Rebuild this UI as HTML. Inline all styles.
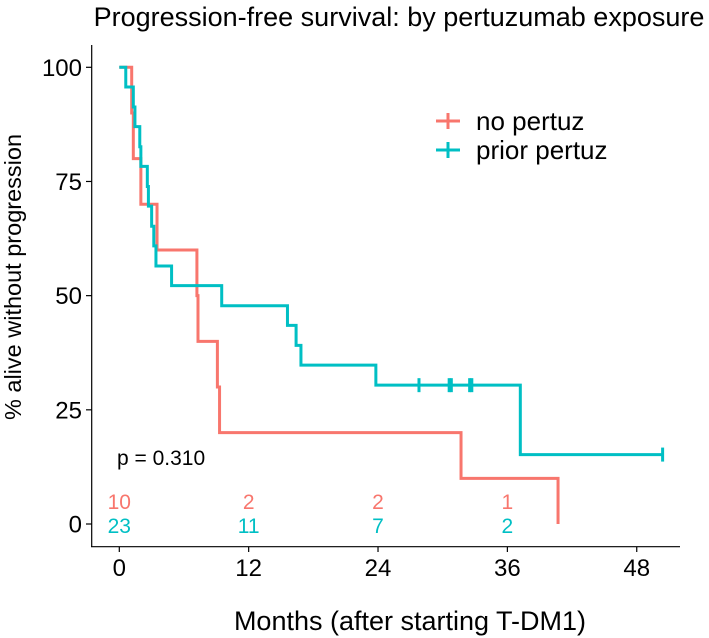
<!DOCTYPE html>
<html><head><meta charset="utf-8"><style>
body{margin:0;background:#fff}
svg{display:block;font-family:"Liberation Sans",Arial,sans-serif}
</style></head><body>
<svg id="chart" width="709" height="638" viewBox="0 0 709 638">
<text x="399" y="26" font-size="27" text-anchor="middle" fill="#000">Progression-free survival: by pertuzumab exposure</text>
<text transform="translate(21,277) rotate(-90)" font-size="23.5" text-anchor="middle" fill="#000">% alive without progression</text>
<text x="410" y="630" font-size="27" text-anchor="middle" fill="#000">Months (after starting T-DM1)</text>
<g id="axes"></g>
<g id="curves"></g>
<g>
<g><line x1="436" x2="460" y1="121" y2="121" stroke="#F8766D" stroke-width="3"/><line x1="448" x2="448" y1="113" y2="129" stroke="#F8766D" stroke-width="3"/><text x="476" y="130" font-size="26">no pertuz</text></g>
<g><line x1="436" x2="460" y1="150" y2="150" stroke="#00BFC4" stroke-width="3"/><line x1="448" x2="448" y1="142" y2="158" stroke="#00BFC4" stroke-width="3"/><text x="476" y="159" font-size="26">prior pertuz</text></g>
</g>
<text x="117" y="465" font-size="21" fill="#000">p = 0.310</text>
</svg>
<script>
const xTicks=[0,12,24,36,48];
const yTicks=[0,25,50,75,100];
const redTimes=[0,1.15,1.3,2.0,3.5,7.2,7.3,9.1,9.3,31.7,40.7];
const redSurv=[100,90,80,70,60,50,40,30,20,10,0];
const cyanTimes=[0,0.6,1.3,1.45,1.9,2.0,2.6,2.7,3.0,3.2,3.4,4.85,9.5,15.6,16.4,16.85,23.8,37.2];
const cyanSurv=[100,95.7,91.3,87.0,82.6,78.3,73.9,69.6,65.2,60.9,56.5,52.2,47.8,43.5,39.1,34.8,30.4,15.2];
const cyanEnd=50.4;
const cyanCensorT=[27.8,30.6,30.8,32.5,32.7,50.4];
const cyanCensorS=[30.4,30.4,30.4,30.4,30.4,15.2];
const riskTimes=[0,12,24,36];
const riskRed=[10,2,2,1];
const riskCyan=[23,11,7,2];
const NS="http://www.w3.org/2000/svg";
const X=t=>119.3+t*10.78, Y=s=>524-s*4.567;
function mk(tag,at,parent){const e=document.createElementNS(NS,tag);for(const k in at)e.setAttribute(k,at[k]);parent.appendChild(e);return e;}
const ax=document.getElementById('axes'), cv=document.getElementById('curves');
let l=mk('line',{x1:91.7,x2:91.7,y1:45,y2:547,stroke:'#000','stroke-width':1.2},ax);


l=mk('line',{x1:91,x2:680,y1:546.7,y2:546.7,stroke:'#000','stroke-width':1.2},ax);


yTicks.forEach(v=>{mk('line',{x1:86,x2:91.7,y1:Y(v),y2:Y(v),stroke:'#000','stroke-width':1.2},ax);
const t=mk('text',{x:82,y:Y(v)+8.5,'font-size':24,'text-anchor':'end'},ax);t.textContent=v;

});
xTicks.forEach(v=>{mk('line',{x1:X(v),x2:X(v),y1:546.7,y2:552,stroke:'#000','stroke-width':1.2},ax);
const t=mk('text',{x:X(v),y:576,'font-size':24,'text-anchor':'middle'},ax);t.textContent=v;

});
function stepPath(ts,ss,end){let d='M'+X(ts[0])+','+Y(ss[0]);for(let i=1;i<ts.length;i++){d+=' H'+X(ts[i])+' V'+Y(ss[i]);}if(end!=null)d+=' H'+X(end);return d;}
let p=mk('path',{d:stepPath(redTimes,redSurv),fill:'none',stroke:'#F8766D','stroke-width':3},cv);


p=mk('path',{d:stepPath(cyanTimes,cyanSurv,cyanEnd),fill:'none',stroke:'#00BFC4','stroke-width':3},cv);


cyanCensorT.forEach((t,i)=>{const c=mk('line',{x1:X(t),x2:X(t),y1:Y(cyanCensorS[i])-7,y2:Y(cyanCensorS[i])+7,stroke:'#00BFC4','stroke-width':3},cv);

});
riskTimes.forEach((t,i)=>{let a=mk('text',{x:X(t),y:509,'font-size':21,'text-anchor':'middle',fill:'#F8766D'},cv);a.textContent=riskRed[i];


let b=mk('text',{x:X(t),y:533,'font-size':21,'text-anchor':'middle',fill:'#00BFC4'},cv);b.textContent=riskCyan[i];

});
</script>
</body></html>
